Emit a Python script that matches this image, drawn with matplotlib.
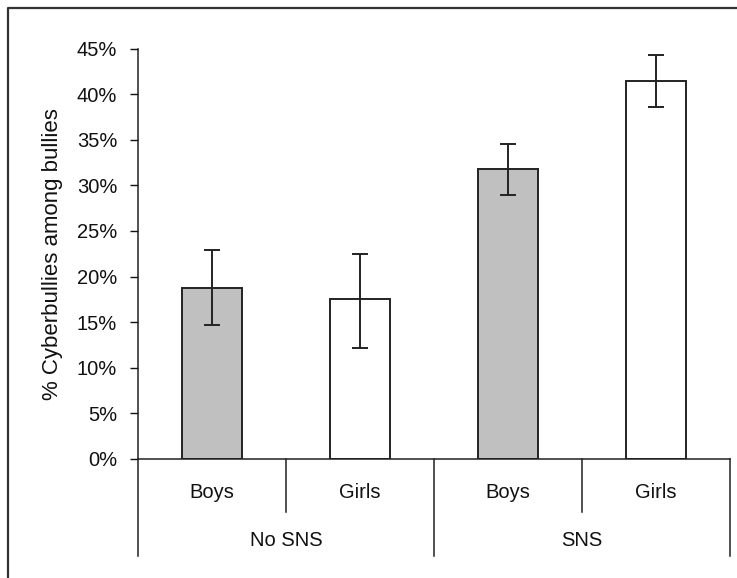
"""Cyberbullies among bullies, by gender and SNS use (bar chart with error bars)."""

import matplotlib

matplotlib.use("Agg")

import matplotlib.pyplot as plt
import numpy as np
from matplotlib.lines import Line2D
from matplotlib.ticker import FuncFormatter

genders = ["Boys", "Girls", "Boys", "Girls"]
groups = ["No SNS", "SNS"]
values = [18.8, 17.5, 31.8, 41.4]
err_low = [14.7, 12.2, 29.0, 38.6]
err_high = [22.9, 22.5, 34.5, 44.3]
fill_colors = ["#c0c0c0", "white", "#c0c0c0", "white"]
y_ticks = [0, 5, 10, 15, 20, 25, 30, 35, 40, 45]

W, H = 737, 578
FS = 14.5


def main() -> None:
    plt.rcParams["font.family"] = ["Liberation Sans", "DejaVu Sans"]
    fig = plt.figure(figsize=(W / 100, H / 100), dpi=100)
    ax = fig.add_axes([138 / W, (H - 459) / H, (730 - 138) / W, (459 - 48.6) / H])

    x = np.arange(len(values))
    vals = np.array(values)
    yerr = np.vstack([vals - np.array(err_low), np.array(err_high) - vals])
    ax.bar(x, vals, width=0.4, color=fill_colors, edgecolor="#222222", linewidth=1.4, zorder=2)
    ax.errorbar(x, vals, yerr=yerr, fmt="none", ecolor="#222222", elinewidth=1.4,
                capsize=5.5, capthick=1.4, zorder=3)

    ax.set_xlim(-0.5, len(values) - 0.5)
    ax.set_ylim(0, 45)
    ax.set_yticks(y_ticks)
    ax.yaxis.set_major_formatter(FuncFormatter(lambda v, _: f"{v:.0f}%"))
    ax.set_xticks([])
    ax.tick_params(axis="y", length=6, width=1, direction="out", pad=9, labelsize=FS, colors="#111111")
    for side in ("top", "right"):
        ax.spines[side].set_visible(False)
    for side in ("left", "bottom"):
        ax.spines[side].set_linewidth(1.1)
        ax.spines[side].set_color("#222222")
    ax.set_ylabel("% Cyberbullies among bullies", fontsize=16, labelpad=10, color="#111111")

    # category dividers under the axis
    trans = ax.get_xaxis_transform()
    axes_h = 459 - 48.6
    short_end = -(512 - 459) / axes_h
    long_end = -(556 - 459) / axes_h
    for i in range(len(values) + 1):
        pos = i - 0.5
        end = long_end if i % 2 == 0 else short_end
        ax.add_line(Line2D([pos, pos], [0, end], transform=trans, color="#222222",
                           linewidth=1.1, clip_on=False))

    for xi, lab in zip(x, genders):
        ax.text(xi, -(493 - 459) / axes_h, lab, transform=trans, ha="center", va="center",
                fontsize=FS, color="#111111")
    for gi, lab in enumerate(groups):
        ax.text(2 * gi + 0.5, -(541 - 459) / axes_h, lab, transform=trans, ha="center",
                va="center", fontsize=FS, color="#111111")

    # outer frame (left and top edges)
    fig.add_artist(Line2D([8 / W, 8 / W, 1.0], [0.0, 1 - 8 / H, 1 - 8 / H],
                          transform=fig.transFigure, color="#333333", linewidth=1.6))

    fig.savefig("out.png", dpi=100)
    plt.close(fig)


if __name__ == "__main__":
    main()
